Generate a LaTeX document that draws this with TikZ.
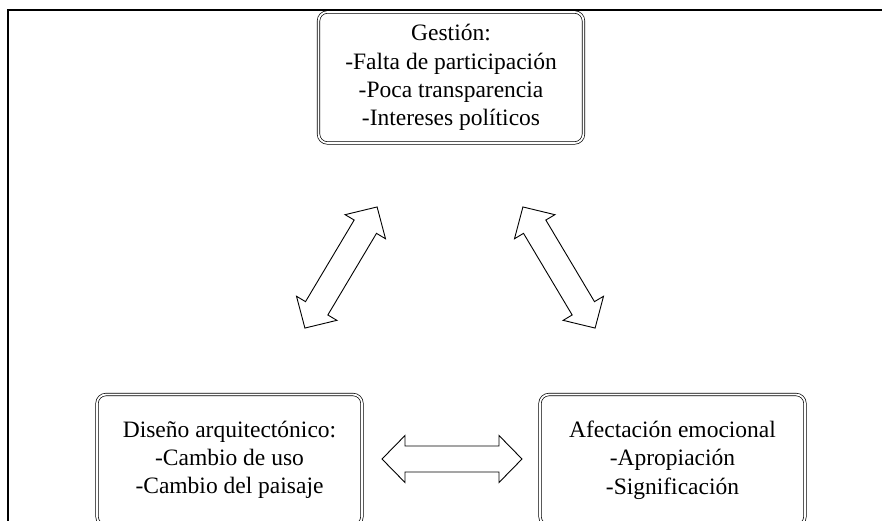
\documentclass[tikz,border=0pt]{standalone}
\usepackage{fontspec}
\setmainfont{Liberation Serif}
\begin{document}
\begin{tikzpicture}[x=1pt,y=-1pt,
  box/.style={draw, double, line width=0.7pt, double distance=1.8pt, rounded corners=9pt,
    align=center, inner sep=0pt, minimum width=265pt, minimum height=131pt,
    font=\fontsize{23.5}{28.3}\selectfont},
  barrow/.style={draw, line width=0.9pt, line join=miter}
]
\useasboundingbox (0,0) rectangle (882,520);
\clip (0,0) rectangle (882,520);
\draw[line width=2pt] (8,522) -- (8,10) -- (884,10);
\node[box] (g) at (451,77.5) {Gestión:\\-Falta de participación\\-Poca transparencia\\-Intereses políticos};
\node[box] (d) at (229.5,460) {Diseño arquitectónico:\\-Cambio de uso\\-Cambio del paisaje};
\node[box] (a) at (672.5,460) {Afectación emocional\\-Apropiación\\-Significación};
% block double arrows: half length L, head length 23, shaft half-width 13, head half-width 23.5
\newcommand\blockarrow[4]{%
  \begin{scope}[shift={#1}, rotate=#2]
    \coordinate (#4) at (0,0);
    \draw[barrow] (-#3,0) -- (-#3+23,23.5) -- (-#3+23,13) -- (#3-23,13) -- (#3-23,23.5)
      -- (#3,0) -- (#3-23,-23.5) -- (#3-23,-13) -- (-#3+23,-13) -- (-#3+23,-23.5) -- cycle;
  \end{scope}}
\blockarrow{(341,267.5)}{59.2}{70.5}{gd}
\blockarrow{(559,267.5)}{-59.2}{70.5}{ga}
\blockarrow{(452,459)}{0}{70}{da}
\end{tikzpicture}
\end{document}
